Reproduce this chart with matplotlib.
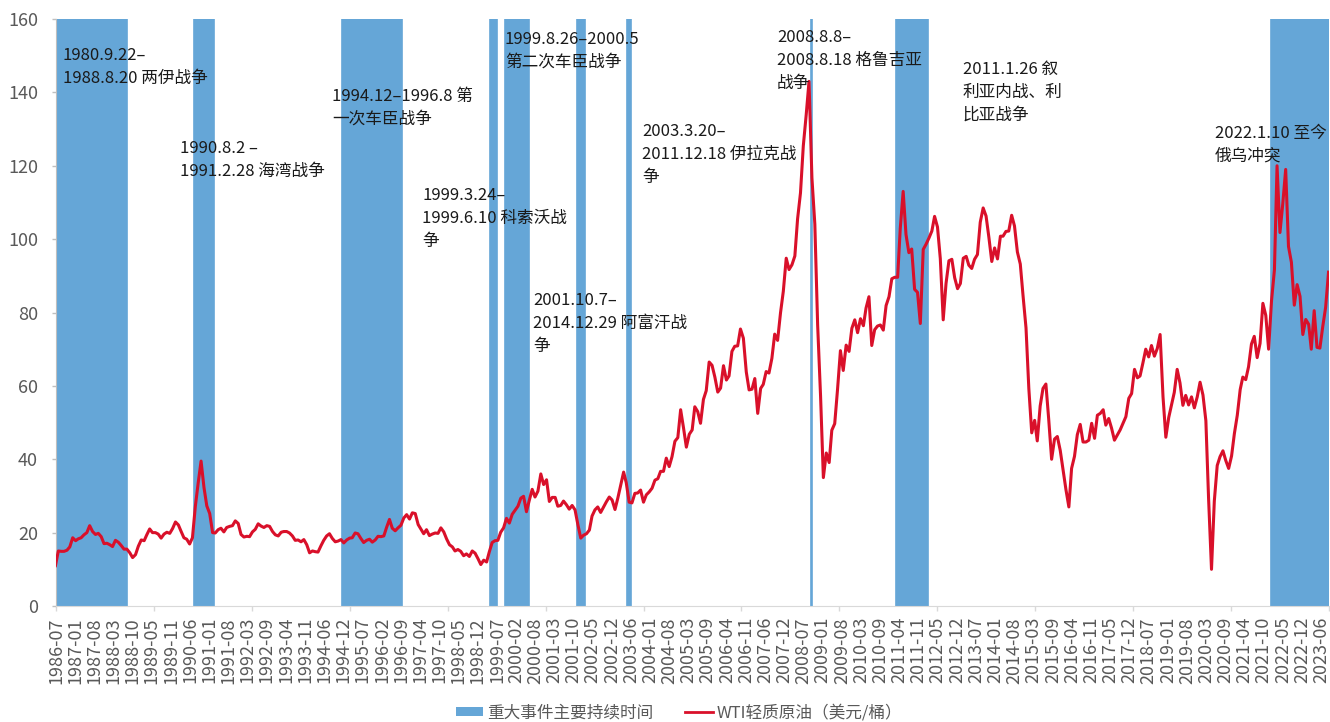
import matplotlib
matplotlib.use('Agg')
import numpy as np
import pandas as pd
import matplotlib.pyplot as plt
import matplotlib.dates as mdates
from matplotlib.patches import Patch
from matplotlib.lines import Line2D

plt.rcParams['font.family'] = ['Noto Sans CJK SC', 'DejaVu Sans']

# WTI, USD/bbl, one value per month from 1986-07 to 2023-09
wti_1986_1995 = [
    11.0, 15.0, 14.9, 14.9, 15.2, 16.1,
    18.6, 17.8, 18.3, 18.6, 19.4, 20.0, 21.9, 20.3, 19.5, 19.8, 18.9, 17.0,
    17.1, 16.7, 16.2, 17.9, 17.4, 16.5, 15.5, 15.5, 14.5, 13.2, 14.0, 16.3,
    18.0, 17.8, 19.4, 21.0, 20.0, 20.0, 19.6, 18.5, 19.6, 20.1, 19.8, 21.1,
    22.9, 22.1, 20.4, 18.6, 18.2, 16.9, 18.6, 27.2, 33.7, 39.5, 32.3, 27.3,
    25.2, 20.0, 19.9, 20.8, 21.2, 20.2, 21.4, 21.7, 21.9, 23.2, 22.5, 19.5,
    18.8, 19.0, 18.9, 20.2, 20.9, 22.4, 21.8, 21.4, 21.9, 21.7, 20.3, 19.4,
    19.1, 20.1, 20.3, 20.3, 19.9, 19.1, 17.9, 18.0, 17.5, 18.1, 16.7, 14.5,
    15.0, 14.8, 14.7, 16.4, 17.9, 19.1, 19.7, 18.4, 17.5, 17.7, 18.1, 17.2,
    18.0, 18.5, 18.6, 19.9, 19.7, 18.4, 17.3, 17.9, 18.2, 17.4, 18.0, 19.0,
]
wti_1996_2005 = [
    18.9, 19.1, 21.4, 23.6, 21.2, 20.5, 21.3, 22.0, 24.0, 24.9, 23.7, 25.4,
    25.2, 22.2, 21.0, 19.7, 20.8, 19.2, 19.6, 19.9, 19.8, 21.3, 20.2, 18.3,
    16.7, 16.1, 15.0, 15.4, 14.9, 13.7, 14.2, 13.5, 15.0, 14.4, 12.9, 11.3,
    12.5, 12.0, 14.7, 17.3, 17.8, 17.9, 20.1, 21.3, 23.9, 22.6, 25.0, 26.1,
    27.2, 29.4, 29.9, 25.7, 28.8, 31.8, 29.7, 31.3, 36.0, 33.1, 34.4, 28.5,
    29.6, 29.6, 27.2, 27.4, 28.6, 27.6, 26.4, 27.4, 26.2, 22.2, 18.5, 19.3,
    19.7, 20.7, 24.5, 26.2, 27.0, 25.5, 26.9, 28.4, 29.7, 28.9, 26.3, 29.4,
    32.9, 36.5, 33.6, 28.3, 28.1, 30.7, 30.8, 31.6, 28.3, 30.3, 31.1, 32.1,
    34.3, 34.7, 36.7, 36.7, 40.3, 38.0, 40.7, 44.9, 45.9, 53.5, 48.5, 43.3,
    46.8, 48.0, 54.3, 53.0, 49.8, 56.3, 58.7, 66.5, 65.6, 62.4, 58.3, 59.4,
]
wti_2006_2015 = [
    65.5, 61.6, 62.7, 69.4, 70.8, 70.9, 75.5, 73.0, 63.8, 58.9, 59.1, 62.0,
    52.5, 59.3, 60.4, 63.9, 63.5, 67.5, 74.1, 72.4, 79.9, 85.8, 94.8, 91.7,
    93.0, 95.4, 105.5, 112.6, 125.4, 133.9, 143.0, 116.7, 104.1, 76.6, 57.3, 35.0,
    41.7, 39.1, 47.9, 49.7, 59.0, 69.6, 64.2, 71.1, 69.4, 75.7, 78.0, 74.5,
    78.3, 76.4, 81.2, 84.3, 71.0, 75.3, 76.3, 76.6, 75.2, 81.9, 84.3, 89.2,
    89.6, 89.6, 102.9, 113.0, 101.3, 96.3, 97.3, 86.3, 85.5, 77.0, 97.2, 98.6,
    100.3, 102.2, 106.2, 103.3, 94.7, 78.0, 87.9, 94.1, 94.5, 89.5, 86.5, 87.9,
    94.8, 95.3, 92.9, 92.0, 94.5, 95.8, 104.6, 108.5, 106.3, 100.5, 93.9, 97.6,
    94.6, 100.8, 100.8, 102.1, 102.2, 106.5, 103.6, 96.5, 93.2, 84.4, 75.8, 59.3,
    47.2, 50.6, 45.0, 54.5, 59.3, 60.5, 50.9, 40.0, 45.5, 46.2, 42.4, 37.2,
]
wti_2016_2023 = [
    31.7, 27.0, 37.5, 40.8, 46.7, 49.5, 44.7, 44.7, 45.2, 49.8, 45.7, 52.0,
    52.5, 53.5, 49.3, 51.1, 48.5, 45.2, 46.6, 48.0, 49.8, 51.6, 56.6, 57.9,
    64.5, 62.2, 62.7, 66.3, 70.0, 67.9, 71.0, 68.1, 70.2, 74.0, 57.0, 46.0,
    51.4, 55.0, 58.2, 64.5, 60.8, 54.7, 57.4, 54.8, 57.0, 54.0, 57.0, 61.0,
    57.5, 50.5, 29.2, 10.0, 28.6, 38.3, 40.7, 42.3, 39.6, 37.5, 40.9, 47.0,
    52.0, 59.0, 62.4, 61.7, 65.2, 71.4, 73.5, 67.7, 71.6, 82.5, 79.2, 70.0,
    83.2, 91.6, 120.0, 101.8, 109.6, 119.0, 98.0, 93.7, 82.0, 87.6, 84.4, 74.0,
    78.1, 76.8, 70.0, 80.5, 70.5, 70.3, 76.1, 81.4, 91.0,
]

# periods of major events (shaded bars)
event_start = ['1986-07-01', '1990-08-02', '1994-12-01', '1999-03-24', '1999-08-26',
               '2001-10-07', '2003-03-20', '2008-08-08', '2011-01-26', '2022-01-10']
event_end = ['1988-08-20', '1991-02-28', '1996-08-31', '1999-06-10', '2000-05-15',
             '2001-12-29', '2003-04-30', '2008-08-18', '2011-12-31', '2023-10-31']

notes = [
    '1980.9.22–\n1988.8.20 两伊战争',
    '1990.8.2 –\n1991.2.28 海湾战争',
    '1994.12–1996.8 第\n一次车臣战争',
    '1999.3.24–\n1999.6.10 科索沃战\n争',
    '1999.8.26–2000.5\n第二次车臣战争',
    '2001.10.7–\n2014.12.29 阿富汗战\n争',
    '2003.3.20–\n2011.12.18 伊拉克战\n争',
    '2008.8.8–\n2008.8.18 格鲁吉亚\n战争',
    '2011.1.26 叙\n利亚内战、利\n比亚战争',
    '2022.1.10 至今\n俄乌冲突',
]
# where each note sits, pixel (left, middle of first line)
note_px = [(63, 55), (180, 148), (332, 96), (422, 195), (505, 39),
           (533, 300), (642, 131), (777, 37), (963, 69), (1215, 133)]

tick_labels = [
    '1986-07', '1987-01', '1987-08', '1988-03', '1988-10', '1989-05', '1989-11',
    '1990-06', '1991-01', '1991-08', '1992-03', '1992-09', '1993-04', '1993-11',
    '1994-06', '1994-12', '1995-07', '1996-02', '1996-09', '1997-04', '1997-10',
    '1998-05', '1998-12', '1999-07', '2000-02', '2000-08', '2001-03', '2001-10',
    '2002-05', '2002-12', '2003-06', '2004-01', '2004-08', '2005-03', '2005-09',
    '2006-04', '2006-11', '2007-06', '2007-12', '2008-07', '2009-01', '2009-08',
    '2010-03', '2010-09', '2011-04', '2011-11', '2012-05', '2012-12', '2013-07',
    '2014-01', '2014-08', '2015-03', '2015-09', '2016-04', '2016-11', '2017-05',
    '2017-12', '2018-07', '2019-01', '2019-08', '2020-03', '2020-09', '2021-04',
    '2021-10', '2022-05', '2022-12', '2023-06',
]

BLUE = '#65A6D7'
RED = '#D9102A'
GREY = '#595959'

wti = wti_1986_1995 + wti_1996_2005 + wti_2006_2015 + wti_2016_2023
months = pd.date_range('1986-07-01', periods=len(wti), freq='MS') + pd.Timedelta(days=14)

W, H = 1330, 722
fig = plt.figure(figsize=(W / 100, H / 100), dpi=100)
L, R, T, B = 56, 1329, 19, 606
ax = fig.add_axes([L / W, 1 - B / H, (R - L) / W, (B - T) / H])

for s, e in zip(event_start, event_end):
    ax.axvspan(pd.Timestamp(s), pd.Timestamp(e), facecolor=BLUE, edgecolor=BLUE,
               lw=1.2, zorder=1)

ax.plot(months, wti, color=RED, lw=2.2, zorder=3)

x0 = mdates.date2num(pd.Timestamp('1986-07-21'))
x1 = mdates.date2num(pd.Timestamp('2023-09-20'))
ax.set_xlim(x0, x1)
ax.set_ylim(0, 160)
ax.set_yticks(range(0, 161, 20))

# category-style axis: labels evenly spaced, tick marks split axis in 13
step = (x1 - x0) * 19.17 / (R - L)
ax.set_xticks(x0 + step * np.arange(len(tick_labels)))
ax.set_xticklabels(tick_labels, rotation=90)
ax.set_xticks(np.linspace(x0, x1, 14), minor=True)
ax.xaxis.remove_overlapping_locs = False
ax.tick_params(axis='x', which='major', length=0, pad=8, labelsize=13, labelcolor=GREY)
ax.tick_params(axis='x', which='minor', length=3.5, width=1, color='#d9d9d9')
ax.tick_params(axis='y', length=3, width=1, color='#bfbfbf', pad=10,
               labelsize=13, labelcolor=GREY)

for side in ('top', 'right'):
    ax.spines[side].set_visible(False)
ax.spines['left'].set_color('#bfbfbf')
ax.spines['bottom'].set_color('#d9d9d9')

for txt, (px, py) in zip(notes, note_px):
    ax.text((px - L) / (R - L), (B - (py - 8)) / (B - T), txt, transform=ax.transAxes,
            ha='left', va='top', fontsize=12, color='#1a1a1a', linespacing=1.45,
            zorder=5)

handles = [Patch(facecolor=BLUE, edgecolor='none'), Line2D([], [], color=RED, lw=2)]
fig.legend(handles, ['重大事件主要持续时间', 'WTI轻质原油（美元/桶）'],
           loc='center', bbox_to_anchor=(679 / W, 1 - 713 / H), ncol=2, frameon=False,
           fontsize=12, labelcolor=GREY, handlelength=1.65, handleheight=0.4,
           handletextpad=0.25, columnspacing=1.9)

fig.savefig('out.png', dpi=100)
